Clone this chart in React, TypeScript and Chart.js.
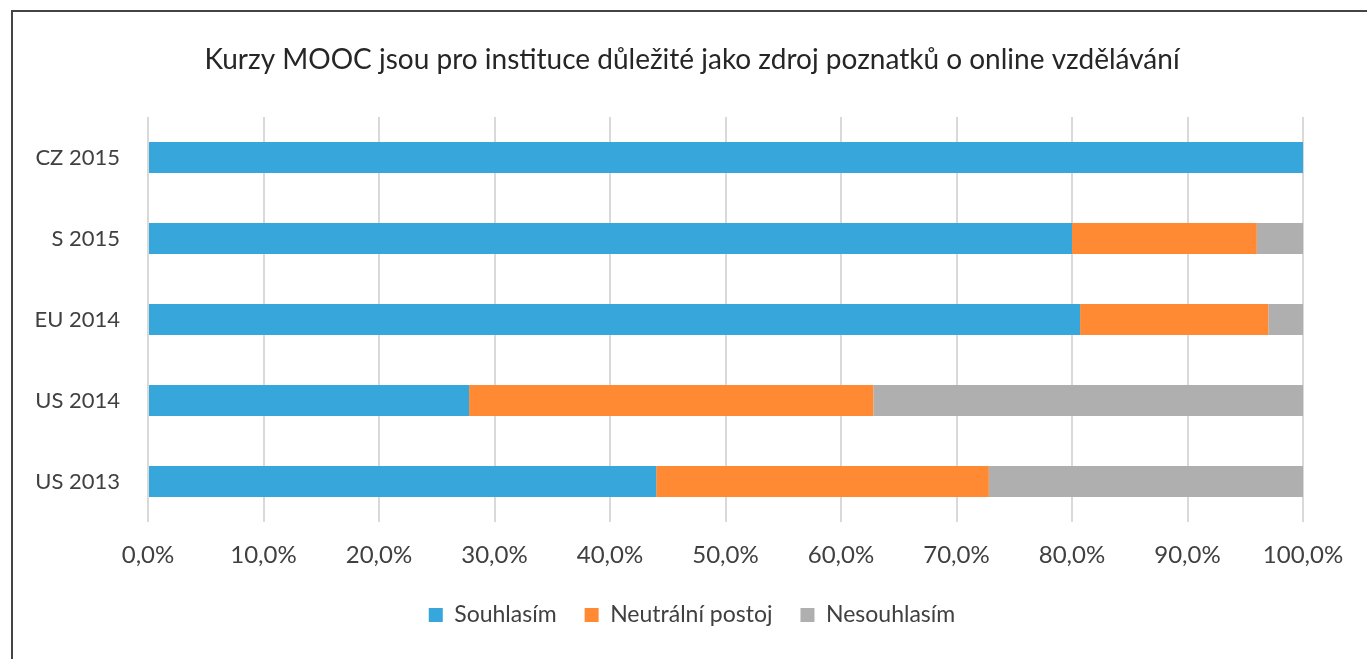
import React, { useEffect, useRef } from "react";
import { Chart, registerables } from "chart.js";

Chart.register(...registerables);

const categories = ["CZ 2015", "S 2015", "EU 2014", "US 2014", "US 2013"];
const souhlasim = [100, 80.0, 80.7, 27.8, 44.0];
const neutralni = [0, 16.0, 16.3, 35.0, 28.8];
const nesouhlasim = [0, 4.0, 3.0, 37.2, 27.2];
const xTicks = [0, 10, 20, 30, 40, 50, 60, 70, 80, 90, 100];
const titleText = "Kurzy MOOC jsou pro instituce důležité jako zdroj poznatků o online vzdělávání";

const FONT = "Lato, 'Open Sans', sans-serif";

export default function App() {
  const ref = useRef<HTMLCanvasElement | null>(null);

  useEffect(() => {
    document.body.style.margin = "0";
    const ctx = ref.current!;
    const chart = new Chart(ctx, {
      type: "bar",
      data: {
        labels: categories,
        datasets: [
          { label: "Souhlasím", data: souhlasim, backgroundColor: "#36A6DB", barPercentage: 0.385, categoryPercentage: 1 },
          { label: "Neutrální postoj", data: neutralni, backgroundColor: "#FF8A33", barPercentage: 0.385, categoryPercentage: 1 },
          { label: "Nesouhlasím", data: nesouhlasim, backgroundColor: "#AFAFAF", barPercentage: 0.385, categoryPercentage: 1 },
        ],
      },
      options: {
        indexAxis: "y",
        animation: false,
        responsive: false,
        maintainAspectRatio: false,
        layout: { padding: { left: 17, right: 0, top: 0, bottom: 22.5 } },
        scales: {
          x: {
            stacked: true,
            min: 0,
            max: 100,
            afterBuildTicks: (scale: any) => {
              scale.ticks = xTicks.map((v) => ({ value: v }));
            },
            afterFit: (scale: any) => {
              scale.height = 53.5;
            },
            border: { display: false },
            grid: { color: "#D9D9D9", lineWidth: 2, drawTicks: false },
            ticks: {
              padding: 19,
              color: "#404040",
              font: { family: FONT, size: 24 },
              callback: (v: any) => Number(v).toFixed(1).replace(".", ",") + "%",
            },
          },
          y: {
            stacked: true,
            afterFit: (scale: any) => {
              scale.width = 131;
            },
            border: { display: false },
            grid: { display: false, drawTicks: false },
            ticks: {
              padding: 28,
              color: "#404040",
              font: { family: FONT, size: 22 },
            },
          },
          yRight: {
            type: "category",
            position: "right",
            display: true,
            afterFit: (scale: any) => {
              scale.width = 64;
            },
            border: { display: false },
            grid: { display: false, drawTicks: false },
            ticks: { display: false },
          },
        },
        plugins: {
          title: {
            display: true,
            text: titleText,
            color: "#262626",
            font: { family: FONT, size: 28, weight: "normal" },
            padding: { top: 43, bottom: 40.4 },
          },
          legend: {
            position: "bottom",
            labels: {
              boxWidth: 14,
              boxHeight: 14,
              padding: 28,
              color: "#404040",
              font: { family: FONT, size: 23 },
            },
          },
          tooltip: { enabled: false },
        },
      },
    } as any);
    return () => chart.destroy();
  }, []);

  return (
    <div style={{ position: "relative", width: 1367, height: 659, background: "#fff", overflow: "hidden" }}>
      <div
        style={{
          position: "absolute",
          left: 11,
          top: 10,
          width: 1400,
          height: 700,
          borderTop: "2px solid #444",
          borderLeft: "2px solid #444",
        }}
      />
      <canvas ref={ref} width={1367} height={659} style={{ position: "absolute", left: 0, top: 0 }} />
    </div>
  );
}
